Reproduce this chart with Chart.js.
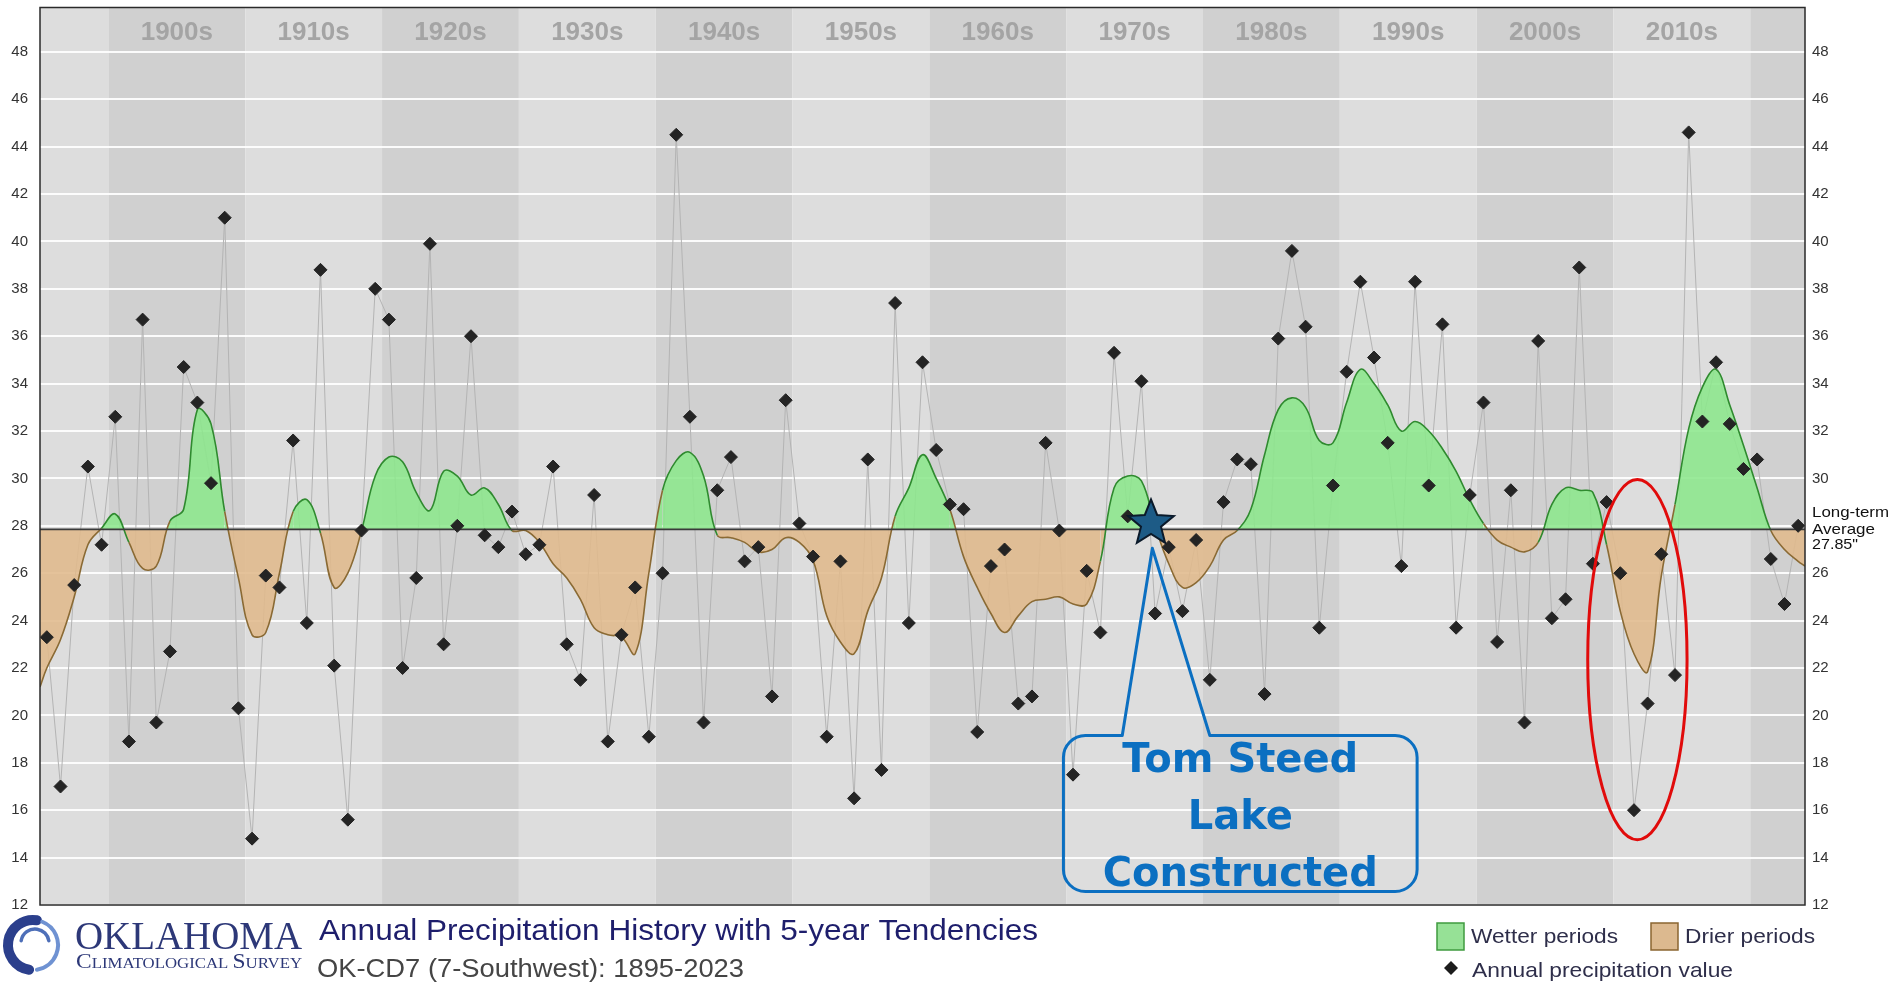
<!DOCTYPE html>
<html><head><meta charset="utf-8">
<script src="https://cdn.jsdelivr.net/npm/chart.js@4.4.0/dist/chart.umd.min.js"></script>
<style>html,body{margin:0;padding:0;background:#fff;overflow:hidden}canvas{display:block}</style>
</head><body>
<canvas id="c" width="1897" height="984"></canvas>
<script>
// ---------------- DATA ----------------
const FIRST_YEAR = 1895;
const LAST_YEAR = 2023;
const precipitation = [
 23.3,17.0,25.5,30.5,27.2,                       // 1895-1899
 32.6,18.9,36.7,19.7,22.7,34.7,33.2,29.8,41.0,20.3, // 1900s
 14.8,25.9,25.4,31.6,23.9,38.8,22.1,15.6,27.8,38.0, // 1910s
 36.7,22.0,25.8,39.9,23.0,28.0,36.0,27.6,27.1,28.6, // 1920s
 26.8,27.2,30.5,23.0,21.5,29.3,18.9,23.4,25.4,19.1, // 1930s
 26.0,44.5,32.6,19.7,29.5,30.9,26.5,27.1,20.8,33.3, // 1940s
 28.1,26.7,19.1,26.5,16.5,30.8,17.7,37.4,23.9,34.9, // 1950s
 31.2,28.9,28.7,19.3,26.3,27.0,20.5,20.8,31.5,27.8, // 1960s
 17.5,26.1,23.5,35.3,28.4,34.1,24.3,27.1,24.4,27.4, // 1970s
 21.5,29.0,30.8,30.6,20.9,35.9,39.6,36.4,23.7,29.7, // 1980s
 34.5,38.3,35.1,31.5,26.3,38.3,29.7,36.5,23.7,29.3, // 1990s
 33.2,23.1,29.5,19.7,35.8,24.1,24.9,38.9,26.4,29.0, // 2000s
 26.0,16.0,20.5,26.8,21.7,44.6,32.4,34.9,32.3,30.4, // 2010s
 30.8,26.6,24.7,28.0                               // 2020s
];
const tendency = [
 22.0,23.2,25.0,27.2,27.9,
 28.5,27.3,26.2,26.3,28.2,28.7,32.9,32.3,28.6,25.8,
 23.4,23.5,26.0,28.6,29.1,27.7,25.4,26.0,27.8,30.1,
 30.9,30.7,29.4,28.65,30.3,30.1,29.3,29.6,28.9,27.8,
 27.8,27.3,26.4,25.8,24.9,23.7,23.4,23.3,22.6,26.0,
 29.5,30.75,31.1,30.1,27.6,27.5,27.3,26.9,27.0,27.5,
 27.3,26.55,24.2,23.1,22.6,24.4,25.8,28.4,29.6,31.0,
 30.0,28.7,26.7,25.4,24.3,23.5,24.2,24.8,24.9,25.0,
 24.7,24.7,26.5,29.6,30.1,29.9,28.0,26.4,25.4,25.6,
 26.3,27.4,27.8,28.7,31.0,32.9,33.4,33.0,31.6,31.5,
 33.2,34.6,34.0,33.1,32.0,32.4,32.0,31.25,30.3,29.1,
 28.1,27.4,27.1,26.9,27.3,28.9,29.6,29.5,29.4,27.2,
 24.4,22.6,21.85,25.9,28.9,32.1,33.85,34.6,33.1,31.4,
 29.6,27.8,27.0,26.5
];
const tendencyLeftEdge = 21.2;   // curve value at the left plot edge (1894.5)
const tendencyRightEdge = 26.3;  // curve value at the right plot edge (2023.5)
const longTermAverage = 27.85;
const yTickValues = [12,14,16,18,20,22,24,26,28,30,32,34,36,38,40,42,44,46,48];
const rightTickValues = [12,14,16,18,20,22,24,26,30,32,34,36,38,40,42,44,46,48]; // 28 replaced by average label
const decadeLabels = ['1900s','1910s','1920s','1930s','1940s','1950s','1960s','1970s','1980s','1990s','2000s','2010s'];
const legendLabels = ['Wetter periods','Drier periods','Annual precipitation value'];
const titleText = 'Annual Precipitation History with 5-year Tendencies';
const subtitleText = 'OK-CD7 (7-Southwest): 1895-2023';
const calloutLines = ['Tom Steed','Lake','Constructed'];
const lakeYear = 1975.7;        // star marker
const lakeValue = 28.1;
const droughtCenter = {x: 2011.25, y: 22.35, rx: 3.63, ry: 7.6}; // red ellipse, data units

// ---------------- BUILD ----------------
const years = precipitation.map((_, i) => FIRST_YEAR + i);
const annualPoints = years.map((yr, i) => ({x: yr, y: precipitation[i]}));
const tendencyPoints = [{x: FIRST_YEAR - 0.5, y: tendencyLeftEdge}]
  .concat(years.map((yr, i) => ({x: yr, y: tendency[i]})))
  .concat([{x: LAST_YEAR + 0.5, y: tendencyRightEdge}]);

const GREEN_LINE = '#2f8a2f', BROWN_LINE = '#8a6a34';
const BAND_DARK = '#d0d0d0', BAND_LIGHT = '#dddddd';

function fitText(ctx, text, x, y, width, font, color, baseline) {
  ctx.save();
  ctx.font = font; ctx.fillStyle = color; ctx.textAlign = 'left'; ctx.textBaseline = baseline || 'middle';
  const w = ctx.measureText(text).width;
  ctx.translate(x, y); ctx.scale(width / w, 1);
  ctx.fillText(text, 0, 0);
  ctx.restore();
}

function drawStar(ctx, cx, cy, R, r) {
  ctx.beginPath();
  for (let i = 0; i < 10; i++) {
    const a = -Math.PI / 2 + i * Math.PI / 5, rad = i % 2 === 0 ? R : r;
    ctx.lineTo(cx + rad * Math.cos(a), cy + rad * Math.sin(a));
  }
  ctx.closePath();
}

const backgroundPlugin = {
  id: 'bands',
  beforeDraw(chart) {
    const {ctx, chartArea: a, scales: {x}} = chart;
    ctx.save();
    ctx.fillStyle = '#fff'; ctx.fillRect(0, 0, chart.width, chart.height);
    for (let d = Math.floor(FIRST_YEAR / 10) * 10; d <= LAST_YEAR; d += 10) {
      const x0 = Math.max(a.left, x.getPixelForValue(d - 0.5));
      const x1 = Math.min(a.right, x.getPixelForValue(d + 9.5));
      ctx.fillStyle = (d / 10) % 2 === 0 ? BAND_DARK : BAND_LIGHT;
      ctx.fillRect(x0, a.top, x1 - x0, a.bottom - a.top);
    }
    ctx.restore();
  },
  beforeDatasetsDraw(chart) {
    const {ctx, scales: {x}} = chart;
    ctx.save();
    ctx.font = 'bold 26px "Liberation Sans", Arial, sans-serif';
    ctx.fillStyle = '#a4a4a4'; ctx.textAlign = 'center'; ctx.textBaseline = 'middle';
    decadeLabels.forEach(lbl => {
      const d = parseInt(lbl, 10);
      ctx.fillText(lbl, x.getPixelForValue(d + 4.5), 33);
    });
    ctx.restore();
  },
  afterDatasetDraw(chart, args) {
    if (args.index !== 1) return;
    const {ctx, chartArea: a, scales: {y}} = chart;
    const py = y.getPixelForValue(longTermAverage);
    ctx.save();
    ctx.strokeStyle = '#3a3a3a'; ctx.lineWidth = 1.6;
    ctx.beginPath(); ctx.moveTo(a.left, py); ctx.lineTo(a.right, py); ctx.stroke();
    ctx.restore();
  },
  afterDraw(chart) {
    const {ctx, chartArea: a, scales: {x, y}} = chart;
    ctx.save();
    // plot frame
    ctx.strokeStyle = '#2a2a2a'; ctx.lineWidth = 1.5;
    ctx.strokeRect(a.left, a.top, a.right - a.left, a.bottom - a.top);

    // long-term average label
    fitText(ctx, 'Long-term', 1812, 513, 77, '15px "Liberation Sans", Arial', '#111');
    fitText(ctx, 'Average', 1812, 530, 63, '15px "Liberation Sans", Arial', '#111');
    fitText(ctx, longTermAverage.toFixed(2) + '"', 1812, 545, 46, '15px "Liberation Sans", Arial', '#111');

    // callout box
    const L = x.getPixelForValue(1969.3), R = x.getPixelForValue(1995.15);
    const T = y.getPixelForValue(19.15), B = y.getPixelForValue(12.57);
    const b1 = x.getPixelForValue(1973.6), b2 = x.getPixelForValue(1980.0);
    const tipX = x.getPixelForValue(1975.8), tipY = y.getPixelForValue(27.05);
    const rad = 22;
    ctx.strokeStyle = '#0b6fc1'; ctx.lineWidth = 3; ctx.lineJoin = 'round';
    ctx.beginPath();
    ctx.moveTo(L + rad, T); ctx.lineTo(b1, T); ctx.lineTo(tipX, tipY); ctx.lineTo(b2, T);
    ctx.lineTo(R - rad, T); ctx.arcTo(R, T, R, T + rad, rad);
    ctx.lineTo(R, B - rad); ctx.arcTo(R, B, R - rad, B, rad);
    ctx.lineTo(L + rad, B); ctx.arcTo(L, B, L, B - rad, rad);
    ctx.lineTo(L, T + rad); ctx.arcTo(L, T, L + rad, T, rad);
    ctx.closePath(); ctx.stroke();
    ctx.font = 'bold 40px "DejaVu Sans", Verdana, sans-serif';
    ctx.fillStyle = '#0b6fc1'; ctx.textAlign = 'center'; ctx.textBaseline = 'middle';
    const fr = [0.165, 0.53, 0.895];
    calloutLines.forEach((t, i) => ctx.fillText(t, (L + R) / 2, T + (B - T) * fr[i]));

    // star
    drawStar(ctx, x.getPixelForValue(lakeYear), y.getPixelForValue(lakeValue), 24, 10.5);
    ctx.fillStyle = '#1d5b86'; ctx.fill();
    ctx.strokeStyle = '#0b1a2a'; ctx.lineWidth = 2; ctx.lineJoin = 'miter'; ctx.stroke();

    // red ellipse
    const ex = x.getPixelForValue(droughtCenter.x), ey = y.getPixelForValue(droughtCenter.y);
    const erx = x.getPixelForValue(droughtCenter.x + droughtCenter.rx) - ex;
    const ery = ey - y.getPixelForValue(droughtCenter.y + droughtCenter.ry);
    ctx.beginPath(); ctx.ellipse(ex, ey, erx, ery, 0, 0, Math.PI * 2);
    ctx.strokeStyle = '#e10b0b'; ctx.lineWidth = 3; ctx.stroke();

    // logo
    ctx.lineCap = 'round';
    ctx.beginPath(); ctx.arc(33, 945, 25, Math.PI * 0.55, Math.PI * 1.55);
    ctx.strokeStyle = '#2b3f8c'; ctx.lineWidth = 10; ctx.stroke();
    ctx.beginPath(); ctx.arc(33, 945, 25, Math.PI * 1.62, Math.PI * 2.45);
    ctx.strokeStyle = '#6f92d2'; ctx.lineWidth = 4; ctx.stroke();
    ctx.beginPath(); ctx.arc(35, 943, 14, Math.PI * 1.05, Math.PI * 1.95);
    ctx.strokeStyle = '#4e6fb8'; ctx.lineWidth = 3.5; ctx.stroke();
    fitText(ctx, 'OKLAHOMA', 75, 949, 227, '40px "Liberation Serif", "Times New Roman", serif', '#2d3878', 'alphabetic');
    // small caps line
    (function () {
      const words = ['CLIMATOLOGICAL', 'SURVEY'];
      const parts = [];
      words.forEach((w, i) => {
        parts.push({t: w[0], f: '21px "Liberation Serif", serif'});
        parts.push({t: w.slice(1) + (i < words.length - 1 ? ' ' : ''), f: '15px "Liberation Serif", serif'});
      });
      let total = 0;
      parts.forEach(p => { ctx.font = p.f; p.w = ctx.measureText(p.t).width; total += p.w; });
      ctx.save(); ctx.translate(76, 968); ctx.scale(226 / total, 1);
      ctx.fillStyle = '#2d3878'; ctx.textBaseline = 'alphabetic'; ctx.textAlign = 'left';
      let cx = 0;
      parts.forEach(p => { ctx.font = p.f; ctx.fillText(p.t, cx, 0); cx += p.w; });
      ctx.restore();
    })();

    // titles
    fitText(ctx, titleText, 319, 932, 719, '30px "Liberation Sans", Arial, sans-serif', '#1e1e6c');
    fitText(ctx, subtitleText, 317, 970, 427, '25px "Liberation Sans", Arial, sans-serif', '#454545');

    // legend
    ctx.lineWidth = 1.5;
    ctx.fillStyle = '#96e196'; ctx.fillRect(1437, 923, 27, 27);
    ctx.strokeStyle = '#3f9a3f'; ctx.strokeRect(1437, 923, 27, 27);
    ctx.fillStyle = '#dcb98f'; ctx.fillRect(1651, 923, 27, 27);
    ctx.strokeStyle = '#8a6530'; ctx.strokeRect(1651, 923, 27, 27);
    ctx.beginPath(); ctx.moveTo(1451, 961); ctx.lineTo(1458, 968); ctx.lineTo(1451, 975); ctx.lineTo(1444, 968); ctx.closePath();
    ctx.fillStyle = '#1c1c1c'; ctx.fill();
    fitText(ctx, legendLabels[0], 1471, 937, 147, '21px "Liberation Sans", Arial', '#2e2e4a');
    fitText(ctx, legendLabels[1], 1685, 937, 130, '21px "Liberation Sans", Arial', '#2e2e4a');
    fitText(ctx, legendLabels[2], 1472, 971, 261, '21px "Liberation Sans", Arial', '#2e2e4a');
    ctx.restore();
  }
};

const tickFont = {family: '"Liberation Sans", Arial, sans-serif', size: 15};
const Y_MIN = 12, Y_MAX = 49.87;

new Chart(document.getElementById('c'), {
  type: 'line',
  data: {
    datasets: [
      { label: 'connector', data: annualPoints, borderColor: '#b4b4b4', borderWidth: 1,
        pointRadius: 0, fill: false, tension: 0, order: 3 },
      { label: '5-year tendency', data: tendencyPoints, borderWidth: 1.6, pointRadius: 0, tension: 0.4,
        borderColor: GREEN_LINE,
        fill: { target: {value: longTermAverage}, above: 'rgba(140,231,140,0.88)', below: 'rgba(224,186,140,0.88)' },
        segment: { borderColor: c => ((c.p0.parsed.y + c.p1.parsed.y) / 2 >= longTermAverage ? GREEN_LINE : BROWN_LINE) },
        order: 2 },
      { label: 'Annual precipitation value', data: annualPoints, showLine: false, pointStyle: 'rectRot',
        pointRadius: 6.5, pointBackgroundColor: '#242424', pointBorderColor: '#242424', pointBorderWidth: 1, order: 1 }
    ]
  },
  options: {
    responsive: false, animation: false, devicePixelRatio: 1,
    layout: { padding: { top: 4, bottom: 79, left: 0, right: 0 } },
    plugins: { legend: { display: false }, tooltip: { enabled: false } },
    scales: {
      x: { type: 'linear', min: FIRST_YEAR - 0.5, max: LAST_YEAR + 0.5, display: false },
      y: { position: 'left', min: Y_MIN, max: Y_MAX,
           afterBuildTicks: s => { s.ticks = yTickValues.map(v => ({value: v})); },
           ticks: { font: tickFont, color: '#333', padding: 12 },
           grid: { color: 'rgba(255,255,255,0.9)', lineWidth: 2, drawTicks: false },
           border: { display: false },
           afterFit: s => { s.width = 40; s.paddingTop = 0; s.paddingBottom = 0; } },
      y2: { position: 'right', min: Y_MIN, max: Y_MAX,
           afterBuildTicks: s => { s.ticks = rightTickValues.map(v => ({value: v})); },
           ticks: { font: tickFont, color: '#333', padding: 7 },
           grid: { display: false, drawTicks: false },
           border: { display: false },
           afterFit: s => { s.width = 92; s.paddingTop = 0; s.paddingBottom = 0; } }
    }
  },
  plugins: [backgroundPlugin]
});
</script>
</body></html>
